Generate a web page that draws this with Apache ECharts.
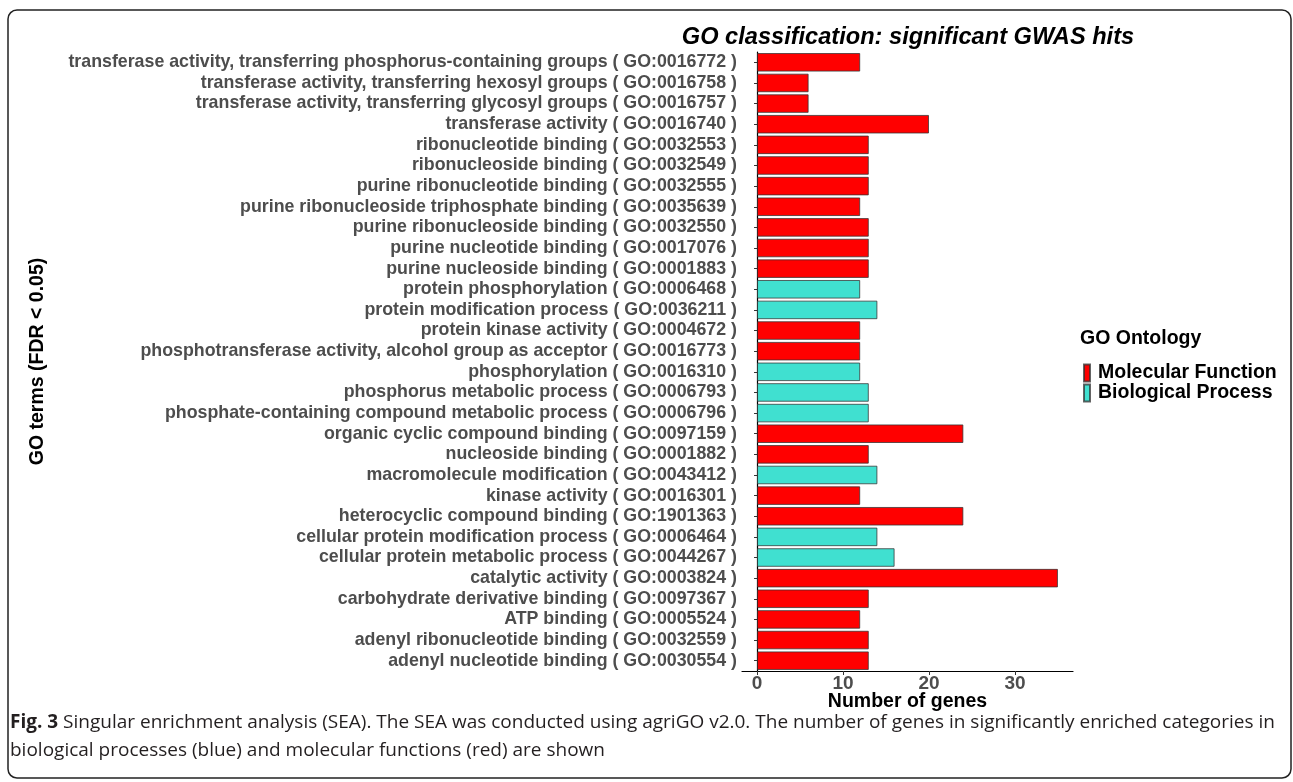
<!DOCTYPE html>
<html>
<head>
<meta charset="utf-8">
<title>GO classification: significant GWAS hits</title>
<script src="https://cdn.jsdelivr.net/npm/echarts@6.0.0/dist/echarts.min.js"></script>
<style>
  html, body { margin: 0; padding: 0; background: #fff; }
  #chart { width: 1293px; height: 782px; }
</style>
</head>
<body>
<div id="chart"></div>
<script>
// GO terms, top to bottom as in the figure
const terms = [
  "transferase activity, transferring phosphorus-containing groups ( GO:0016772 )",
  "transferase activity, transferring hexosyl groups ( GO:0016758 )",
  "transferase activity, transferring glycosyl groups ( GO:0016757 )",
  "transferase activity ( GO:0016740 )",
  "ribonucleotide binding ( GO:0032553 )",
  "ribonucleoside binding ( GO:0032549 )",
  "purine ribonucleotide binding ( GO:0032555 )",
  "purine ribonucleoside triphosphate binding ( GO:0035639 )",
  "purine ribonucleoside binding ( GO:0032550 )",
  "purine nucleotide binding ( GO:0017076 )",
  "purine nucleoside binding ( GO:0001883 )",
  "protein phosphorylation ( GO:0006468 )",
  "protein modification process ( GO:0036211 )",
  "protein kinase activity ( GO:0004672 )",
  "phosphotransferase activity, alcohol group as acceptor ( GO:0016773 )",
  "phosphorylation ( GO:0016310 )",
  "phosphorus metabolic process ( GO:0006793 )",
  "phosphate-containing compound metabolic process ( GO:0006796 )",
  "organic cyclic compound binding ( GO:0097159 )",
  "nucleoside binding ( GO:0001882 )",
  "macromolecule modification ( GO:0043412 )",
  "kinase activity ( GO:0016301 )",
  "heterocyclic compound binding ( GO:1901363 )",
  "cellular protein modification process ( GO:0006464 )",
  "cellular protein metabolic process ( GO:0044267 )",
  "catalytic activity ( GO:0003824 )",
  "carbohydrate derivative binding ( GO:0097367 )",
  "ATP binding ( GO:0005524 )",
  "adenyl ribonucleotide binding ( GO:0032559 )",
  "adenyl nucleotide binding ( GO:0030554 )"
];
const geneCounts = [12, 6, 6, 20, 13, 13, 13, 12, 13, 13, 13, 12, 14, 12, 12,
                    12, 13, 13, 24, 13, 14, 12, 24, 14, 16, 35, 13, 12, 13, 13];
// MF = Molecular Function, BP = Biological Process
const ontology = ["MF", "MF", "MF", "MF", "MF", "MF", "MF", "MF", "MF", "MF",
                  "MF", "BP", "BP", "MF", "MF", "BP", "BP", "BP", "MF", "MF",
                  "BP", "MF", "MF", "BP", "BP", "MF", "MF", "MF", "MF", "MF"];
const xTicks = [0, 10, 20, 30];
const groupNames = { MF: "Molecular Function", BP: "Biological Process" };
const groupColors = { MF: "#ff0000", BP: "#40e0d0" };

const FONT = "'Liberation Sans', Arial, sans-serif";
const CAPTION_FONT = "'Open Sans', sans-serif";

const makeSeries = (key) => ({
  name: groupNames[key],
  type: "bar",
  stack: "genes",
  barWidth: "90%",
  itemStyle: {
    color: groupColors[key],
    borderColor: "rgba(50,50,50,0.75)",
    borderWidth: 1
  },
  data: geneCounts.map((v, i) => (ontology[i] === key ? v : "-"))
});

const chart = echarts.init(document.getElementById("chart"));
chart.setOption({
  backgroundColor: "#fff",
  animation: false,
  textStyle: { fontFamily: FONT },
  grid: { left: 742, right: 220, top: 52, bottom: 111, containLabel: false },
  xAxis: {
    type: "value",
    min: -1.75,
    max: 36.75,
    name: "Number of genes",
    nameLocation: "middle",
    nameGap: 31,
    nameMoveOverlap: false,
    nameTextStyle: { fontFamily: FONT, fontSize: 19.5, fontWeight: "bold", color: "#000", verticalAlign: "middle" },
    axisLine: { show: true, lineStyle: { color: "#000", width: 1.2 } },
    axisTick: { show: true, customValues: xTicks, length: 4, lineStyle: { color: "#333" } },
    axisLabel: {
      customValues: xTicks,
      fontFamily: FONT, fontSize: 19, fontWeight: "bold", color: "#4d4d4d", margin: 3
    },
    splitLine: { show: false }
  },
  yAxis: {
    type: "category",
    data: terms,
    inverse: true,
    name: "GO terms (FDR < 0.05)",
    nameLocation: "middle",
    nameRotate: 90,
    nameGap: 694,
    nameMoveOverlap: false,
    nameTextStyle: { fontFamily: FONT, fontSize: 19.5, fontWeight: "bold", color: "#000" },
    axisLine: { show: true, lineStyle: { color: "#000", width: 1.2 } },
    axisTick: { show: true, alignWithLabel: true, length: 3, lineStyle: { color: "#333" } },
    axisLabel: { interval: 0, fontFamily: FONT, fontSize: 17.8, fontWeight: "bold", color: "#4d4d4d", margin: 5 }
  },
  legend: {
    orient: "vertical",
    left: 1078,
    top: 358,
    icon: "rect",
    itemWidth: 6,
    itemHeight: 17,
    itemGap: 0,
    textStyle: { fontFamily: FONT, fontSize: 19.5, lineHeight: 18, fontWeight: "bold", color: "#000", padding: [0, 0, 0, 3] },
    data: [groupNames.MF, groupNames.BP]
  },
  graphic: [
    {
      type: "rect",
      z: -1,
      shape: { x: 8, y: 10, width: 1283, height: 768, r: 9 },
      style: { fill: "none", stroke: "#222", lineWidth: 1.5 }
    },
    {
      type: "text",
      style: {
        text: "GO classification: significant GWAS hits",
        x: 908, y: 37, align: "center", verticalAlign: "middle",
        font: "italic bold 23.6px " + FONT,
        fill: "#000"
      }
    },
    {
      type: "text",
      style: {
        text: "GO Ontology",
        x: 1080, y: 339, verticalAlign: "middle",
        font: "bold 19.5px " + FONT,
        fill: "#000"
      }
    },
    {
      type: "text",
      style: {
        text: "{b|Fig. 3} Singular enrichment analysis (SEA). The SEA was conducted using agriGO v2.0. The number of genes in significantly enriched categories in",
        x: 10, y: 723, verticalAlign: "middle",
        font: "19px " + CAPTION_FONT,
        fill: "#231f20",
        rich: { b: { font: "bold 19px " + CAPTION_FONT, fill: "#231f20" } }
      }
    },
    {
      type: "text",
      style: {
        text: "biological processes (blue) and molecular functions (red) are shown",
        x: 10, y: 751, verticalAlign: "middle",
        font: "19px " + CAPTION_FONT,
        fill: "#231f20"
      }
    }
  ],
  series: [makeSeries("MF"), makeSeries("BP")]
});
</script>
</body>
</html>
